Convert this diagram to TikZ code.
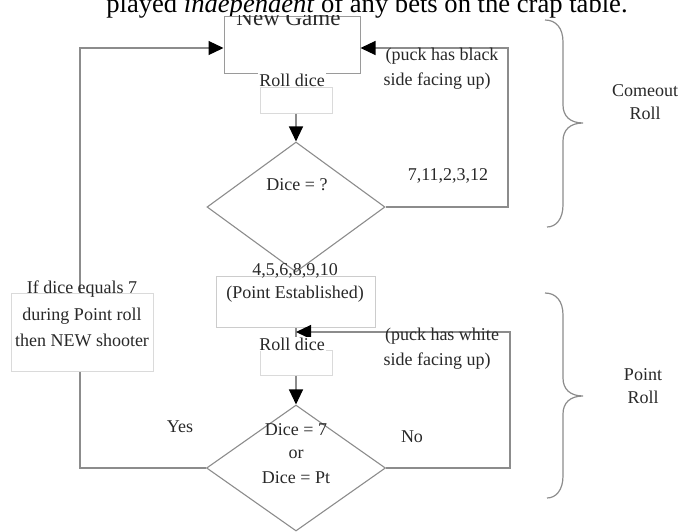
\documentclass[tikz,border=0pt]{standalone}
\usepackage{fontspec}
\setmainfont{Liberation Serif}
\usetikzlibrary{arrows.meta,shapes.geometric}
\definecolor{lineg}{HTML}{8C8C8C}
\definecolor{boxg}{HTML}{9A9A9A}
\definecolor{faint}{HTML}{DADADA}
\definecolor{txtg}{HTML}{282828}
\begin{document}
\begin{tikzpicture}[x=1pt,y=-1pt,
  ln/.style={draw=lineg, line width=1.2pt},
  arr/.style={ln, -{Triangle[length=15pt,width=14pt,color=black]}},
  txt/.style={text=txtg, inner sep=0pt, anchor=base, font=\fontsize{18}{22}\selectfont},
  frame/.style={draw=#1, line width=1pt, fill=white, inner sep=0pt},
  brace/.style={draw=lineg, line width=1.2pt},
  dia/.style={diamond, draw=lineg, line width=1.1pt, inner sep=0pt}
]
\useasboundingbox (0,0) rectangle (678,531);

% title
\node[anchor=base, inner sep=0pt, font=\fontsize{26.6}{30}\selectfont] (title) at (367,12)
  {played \textit{independent} of any bets on the crap table.};

% shapes
\node[frame=boxg, minimum width=136pt, minimum height=57pt] (ng) at (292,44.5) {};
\node[frame=faint, minimum width=72pt, minimum height=26pt] (sb1) at (296,100) {};
\node[dia, minimum width=178pt, minimum height=130pt, aspect=1.37] (d1) at (296,207) {};
\node[frame=faint, minimum width=72pt, minimum height=25pt] (sb2) at (296,362.5) {};
\node[dia, minimum width=179pt, minimum height=126pt, aspect=1.42] (d2) at (296,468) {};

% connector coordinates
\coordinate (c1) at (508,48);
\coordinate (c2) at (80,48);
\coordinate (c3) at (510,332);
\coordinate (j2) at (296,332);

% connectors
\draw[ln] (sb1.north) -- (sb1.north |- ng.south);
\draw[arr] (sb1.south) -- (d1.north);
\draw[arr] (d1.east) -| (c1) -- ([yshift=-3.5pt]ng.east);
\draw[arr] (sb2.south) -- (d2.north);
\draw[arr] (d2.west) -| (c2) -- ([yshift=-3.5pt]ng.west);

% boxes drawn over lines
\node[frame=faint!85!gray, minimum width=159pt, minimum height=51pt] (pe) at (295.5,301.5) {};
\draw[ln] (sb2.north) -- (sb2.north |- pe.south);
\draw[arr] (d2.east) -| (c3) -- (j2);
\node[frame=faint, minimum width=142pt, minimum height=78pt] (lb) at (82,332) {};

% New Game text clipped to its box
\begin{scope}
  \clip (ng.north west) rectangle (ng.south east);
  \node[txt, font=\fontsize{23}{26}\selectfont] (ngt) at (288.5,25) {New Game};
\end{scope}

% texts
\node[txt, fill=white, inner sep=1pt] (rd1) at (292,86) {Roll dice};
\node[txt] (pb1) at (442,60) {(puck has black};
\node[txt] (pb2) at (437,85) {side facing up)};
\node[txt] (dq) at (297,190) {Dice = ?};
\node[txt] (l7) at (448,180) {7,11,2,3,12};
\node[txt] (l4) at (295,275) {4,5,6,8,9,10};
\node[txt] (pet) at (295,298) {(Point Established)};
\node[txt, fill=white, inner sep=1pt] (rd2) at (292,350) {Roll dice};
\node[txt] (pw1) at (442,340) {(puck has white};
\node[txt] (pw2) at (437,365) {side facing up)};
\node[txt] (lb1) at (82,293) {If dice equals 7};
\node[txt] (lb2) at (82,320) {during Point roll};
\node[txt] (lb3) at (82,346) {then NEW shooter};
\node[txt] (yes) at (180,432) {Yes};
\node[txt] (no) at (412,442) {No};
\node[txt] (q1) at (296,435) {Dice = 7};
\node[txt] (q2) at (296,458) {or};
\node[txt] (q3) at (296,483) {Dice = Pt};
\node[txt] (co1) at (645,96) {Comeout};
\node[txt] (co2) at (645,119) {Roll};
\node[txt] (pr1) at (643,380) {Point};
\node[txt] (pr2) at (643,403) {Roll};

% braces
\draw[brace] (545,20) .. controls (556,20) and (563,28) .. (563,42) -- (563,105)
  .. controls (563,116) and (570,123) .. (583,123)
  .. controls (570,123) and (563,130) .. (563,141) -- (563,205)
  .. controls (563,219) and (556,227) .. (547,227);
\draw[brace] (545,293) .. controls (556,293) and (563,301) .. (563,315) -- (563,378)
  .. controls (563,389) and (570,396) .. (583,396)
  .. controls (570,396) and (563,403) .. (563,414) -- (563,476)
  .. controls (563,490) and (556,498) .. (547,498);
\end{tikzpicture}
\end{document}
